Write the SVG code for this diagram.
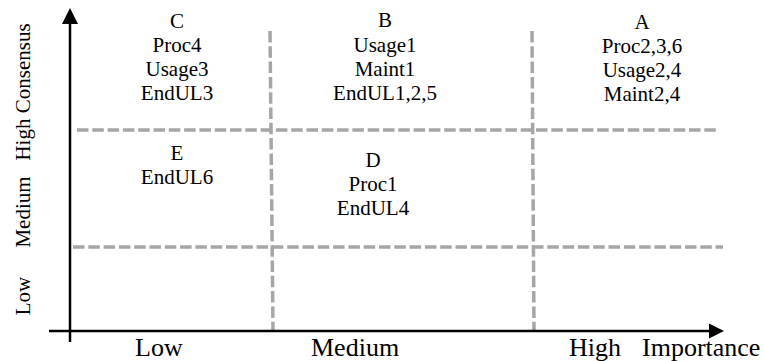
<svg xmlns="http://www.w3.org/2000/svg" width="764" height="361" viewBox="0 0 764 361">
<style>
text{font-family:"Liberation Serif","Times New Roman",serif;fill:#000}
.c{font-size:21px;text-anchor:middle}
.ax{font-size:26px}
.ay{font-size:21px;text-anchor:middle}
.grid{stroke:#a6a6a6;stroke-width:3.5;stroke-dasharray:11.5,3.8;fill:none}
.axis{stroke:#000;stroke-width:2.5;fill:none}
</style>
<rect width="764" height="361" fill="#fff"/>
<g id="connectors">
<line class="grid" x1="270" y1="31" x2="273" y2="331"/>
<line class="grid" x1="532" y1="31" x2="534" y2="331"/>
<line class="grid" x1="77" y1="130" x2="717" y2="130"/>
<line class="grid" x1="73" y1="247" x2="723" y2="247"/>
<line class="axis" x1="70" y1="342" x2="70" y2="20"/>
<polygon points="70,8 62,24 78,24" fill="#000"/>
<line class="axis" x1="49" y1="331" x2="712" y2="331"/>
<polygon points="724,331 709,323.5 709,338.5" fill="#000"/>
</g>
<g id="axis-x-labels">
<text class="ax" x="135" y="356">Low</text>
<text class="ax" x="311" y="356">Medium</text>
<text class="ax" x="569" y="356">High</text>
<text class="ax" x="642" y="356">Importance</text>
</g>
<g id="axis-y-labels">
<text class="ay" transform="translate(29.5,92) rotate(-90)">High Consensus</text>
<text class="ay" transform="translate(29.5,212) rotate(-90)">Medium</text>
<text class="ay" transform="translate(29.5,296) rotate(-90)">Low</text>
</g>
<g id="node-C">
<text class="c" x="177" y="28">C</text>
<text class="c" x="177" y="52">Proc4</text>
<text class="c" x="177" y="76">Usage3</text>
<text class="c" x="177" y="100">EndUL3</text>
</g>
<g id="node-B">
<text class="c" x="385" y="27">B</text>
<text class="c" x="385" y="52">Usage1</text>
<text class="c" x="385" y="76">Maint1</text>
<text class="c" x="385" y="100">EndUL1,2,5</text>
</g>
<g id="node-A">
<text class="c" x="642" y="29">A</text>
<text class="c" x="642" y="53">Proc2,3,6</text>
<text class="c" x="642" y="77">Usage2,4</text>
<text class="c" x="642" y="101">Maint2,4</text>
</g>
<g id="node-E">
<text class="c" x="177" y="160">E</text>
<text class="c" x="177" y="184">EndUL6</text>
</g>
<g id="node-D">
<text class="c" x="373" y="167">D</text>
<text class="c" x="373" y="191">Proc1</text>
<text class="c" x="373" y="215">EndUL4</text>
</g>
</svg>
